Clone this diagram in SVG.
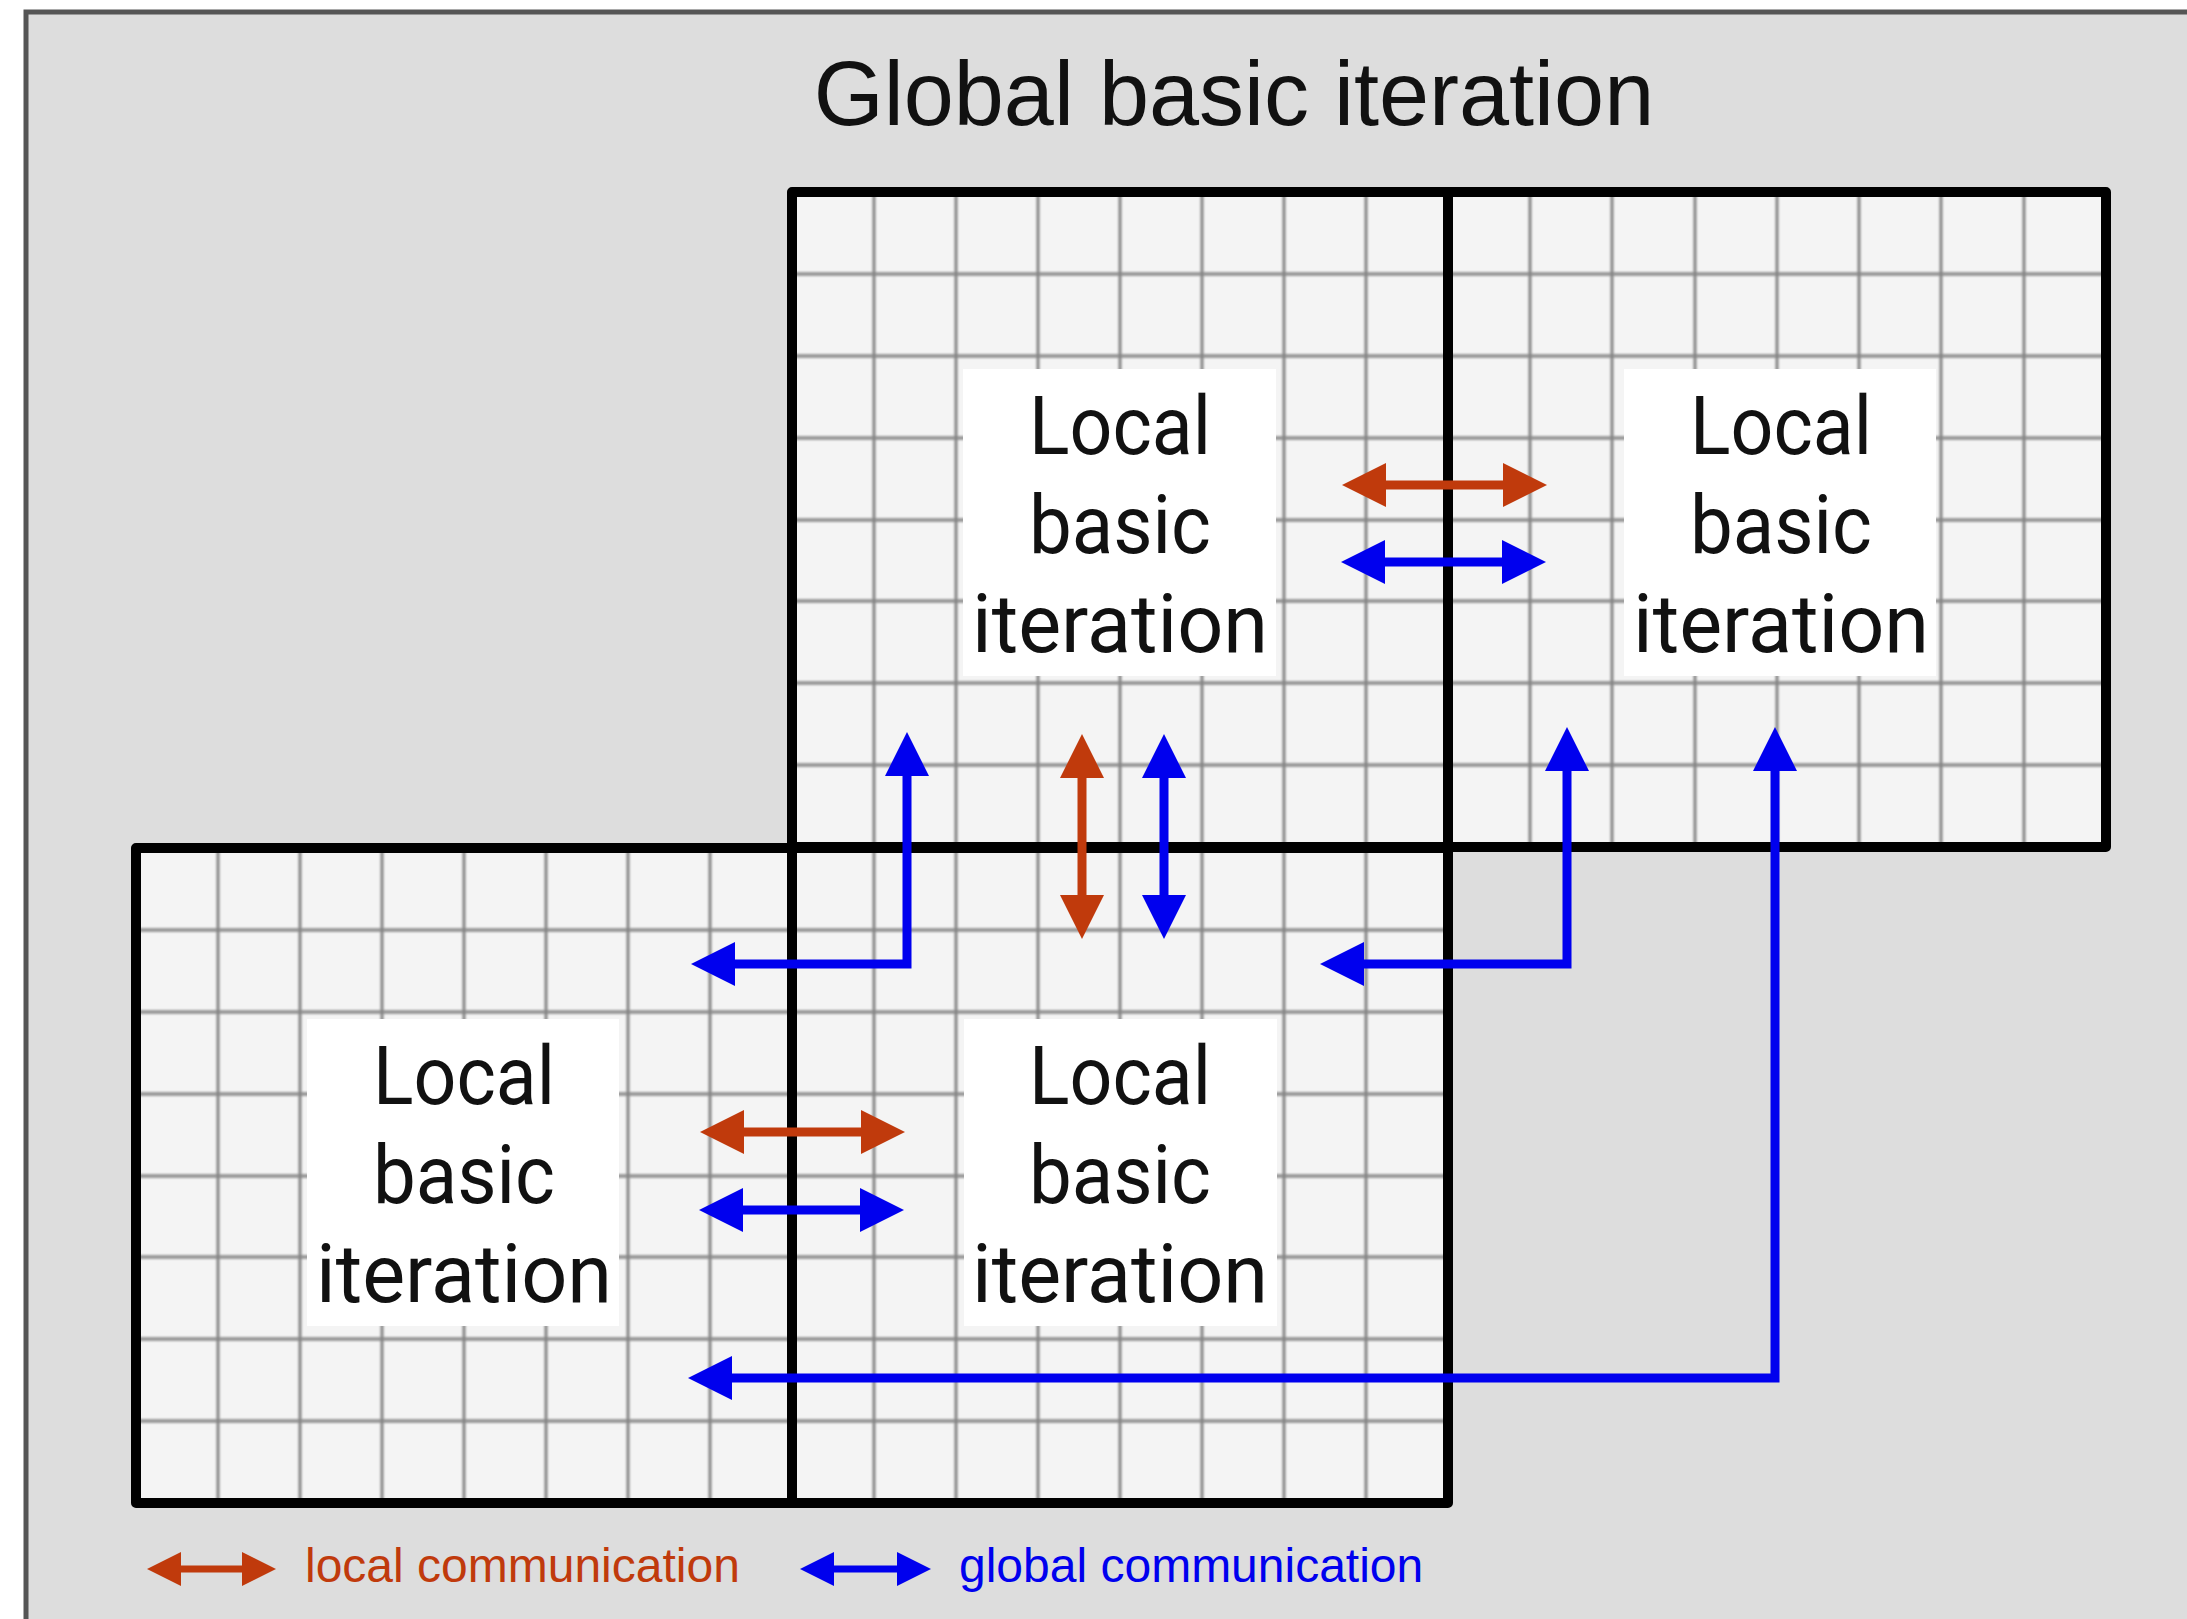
<svg xmlns="http://www.w3.org/2000/svg" width="2187" height="1619" viewBox="0 0 2187 1619">
<style>
.cell{fill:#f4f4f4}
.gv{fill:none;stroke:#858585;stroke-width:3}
.gh{fill:none;stroke:#9a9a9a;stroke-width:4}
.border{fill:none;stroke:#000;stroke-width:10;stroke-linejoin:round}
.box{fill:#fff}
.lbl{font-family:Roboto,"Liberation Sans",sans-serif;font-size:82px;fill:#111;text-anchor:middle}
.red{fill:none;stroke:#c03a0c;stroke-width:9}
.blue{fill:none;stroke:#0000ee;stroke-width:9}
.lred{fill:none;stroke:#c03a0c;stroke-width:7}
.lblue{fill:none;stroke:#0000ee;stroke-width:7}
.leg{font-family:"Liberation Sans",Arial,sans-serif;font-size:48px}
</style>
<defs>
<filter id="soft" x="-5%" y="-5%" width="110%" height="110%"><feGaussianBlur stdDeviation="0.9"/></filter>
<marker id="hr" viewBox="0 0 44 44" refX="1" refY="22" markerWidth="44" markerHeight="44" markerUnits="userSpaceOnUse" orient="auto-start-reverse"><path d="M0,0 L44,22 L0,44 Z" fill="#c03a0c"/></marker>
<marker id="hb" viewBox="0 0 44 44" refX="1" refY="22" markerWidth="44" markerHeight="44" markerUnits="userSpaceOnUse" orient="auto-start-reverse"><path d="M0,0 L44,22 L0,44 Z" fill="#0000ee"/></marker>
<marker id="lhr" viewBox="0 0 34 34" refX="1" refY="17" markerWidth="34" markerHeight="34" markerUnits="userSpaceOnUse" orient="auto-start-reverse"><path d="M0,0 L34,17 L0,34 Z" fill="#c03a0c"/></marker>
<marker id="lhb" viewBox="0 0 34 34" refX="1" refY="17" markerWidth="34" markerHeight="34" markerUnits="userSpaceOnUse" orient="auto-start-reverse"><path d="M0,0 L34,17 L0,34 Z" fill="#0000ee"/></marker>
</defs>
<rect x="0" y="0" width="2187" height="1619" fill="#fff"/>
<rect x="26" y="12" width="2300" height="1800" fill="#dddddd" stroke="#555" stroke-width="5"/>
<text x="1234" y="125" font-family="Liberation Sans, Arial, sans-serif" font-size="90" fill="#111" text-anchor="middle">Global basic iteration</text>

<g id="grid-top">
<rect class="cell" x="792" y="192" width="1314" height="655"/>
<g filter="url(#soft)">
<path class="gh" d="M792,274H2106M792,356H2106M792,438H2106M792,520H2106M792,601H2106M792,683H2106M792,765H2106"/>
<path class="gv" d="M874,192V847M956,192V847M1038,192V847M1120,192V847M1202,192V847M1284,192V847M1366,192V847M1530,192V847M1612,192V847M1695,192V847M1777,192V847M1859,192V847M1941,192V847M2024,192V847"/>
</g>
</g>
<g id="grid-bottom">
<rect class="cell" x="136" y="848" width="1312" height="655"/>
<g filter="url(#soft)">
<path class="gh" d="M136,930H1448M136,1012H1448M136,1094H1448M136,1176H1448M136,1257H1448M136,1339H1448M136,1421H1448"/>
<path class="gv" d="M218,848V1503M300,848V1503M382,848V1503M464,848V1503M546,848V1503M628,848V1503M710,848V1503M874,848V1503M956,848V1503M1038,848V1503M1120,848V1503M1202,848V1503M1284,848V1503M1366,848V1503"/>
</g>
</g>
<g id="borders">
<rect class="border" x="792" y="192" width="1314" height="655"/>
<rect class="border" x="136" y="848" width="1312" height="655"/>
<path class="border" d="M1448,192V1503M792,848V1503"/>
</g>

<g id="node-top-left">
<rect class="box" x="963" y="369" width="313" height="307"/>
<text class="lbl"><tspan x="1120" y="454" textLength="182" lengthAdjust="spacingAndGlyphs">Local</tspan><tspan x="1120" y="553" textLength="182" lengthAdjust="spacingAndGlyphs">basic</tspan><tspan x="1120" y="652" textLength="296" lengthAdjust="spacingAndGlyphs">iteration</tspan></text>
</g>
<g id="node-top-right">
<rect class="box" x="1624" y="369" width="312" height="307"/>
<text class="lbl"><tspan x="1781" y="454" textLength="182" lengthAdjust="spacingAndGlyphs">Local</tspan><tspan x="1781" y="553" textLength="182" lengthAdjust="spacingAndGlyphs">basic</tspan><tspan x="1781" y="652" textLength="296" lengthAdjust="spacingAndGlyphs">iteration</tspan></text>
</g>
<g id="node-bottom-left">
<rect class="box" x="307" y="1019" width="312" height="307"/>
<text class="lbl"><tspan x="464" y="1104" textLength="182" lengthAdjust="spacingAndGlyphs">Local</tspan><tspan x="464" y="1203" textLength="182" lengthAdjust="spacingAndGlyphs">basic</tspan><tspan x="464" y="1302" textLength="296" lengthAdjust="spacingAndGlyphs">iteration</tspan></text>
</g>
<g id="node-bottom-right">
<rect class="box" x="964" y="1019" width="313" height="307"/>
<text class="lbl"><tspan x="1120" y="1104" textLength="182" lengthAdjust="spacingAndGlyphs">Local</tspan><tspan x="1120" y="1203" textLength="182" lengthAdjust="spacingAndGlyphs">basic</tspan><tspan x="1120" y="1302" textLength="296" lengthAdjust="spacingAndGlyphs">iteration</tspan></text>
</g>

<g id="connectors">
<path class="red" d="M1385,485H1504" marker-start="url(#hr)" marker-end="url(#hr)"/>
<path class="blue" d="M1384,562H1503" marker-start="url(#hb)" marker-end="url(#hb)"/>
<path class="red" d="M1082,777V896" marker-start="url(#hr)" marker-end="url(#hr)"/>
<path class="blue" d="M1164,777V896" marker-start="url(#hb)" marker-end="url(#hb)"/>
<path class="blue" d="M907,775V964H734" marker-start="url(#hb)" marker-end="url(#hb)"/>
<path class="blue" d="M1567,770V964H1363" marker-start="url(#hb)" marker-end="url(#hb)"/>
<path class="blue" d="M1775,770V1378H731" marker-start="url(#hb)" marker-end="url(#hb)"/>
<path class="red" d="M743,1132H862" marker-start="url(#hr)" marker-end="url(#hr)"/>
<path class="blue" d="M742,1210H861" marker-start="url(#hb)" marker-end="url(#hb)"/>
</g>

<g id="legend">
<path class="lred" d="M180,1569H243" marker-start="url(#lhr)" marker-end="url(#lhr)"/>
<text class="leg" x="305" y="1582" fill="#c03a0c">local communication</text>
<path class="lblue" d="M833,1569H898" marker-start="url(#lhb)" marker-end="url(#lhb)"/>
<text class="leg" x="959" y="1582" fill="#0000ee">global communication</text>
</g>
</svg>
